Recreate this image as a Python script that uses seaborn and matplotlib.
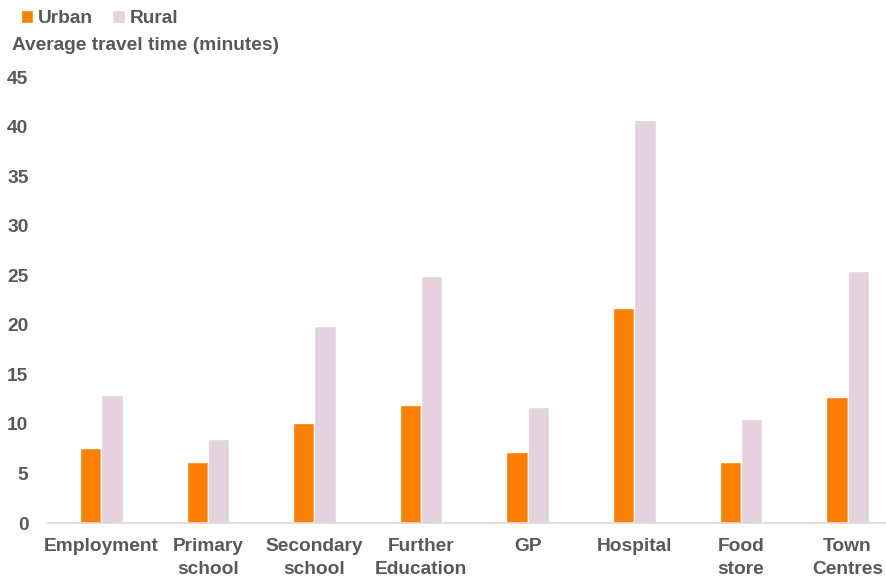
import matplotlib
matplotlib.use("Agg")
import matplotlib.pyplot as plt
import seaborn as sns
import pandas as pd

categories = ["Employment", "Primary\nschool", "Secondary\nschool", "Further\nEducation",
              "GP", "Hospital", "Food\nstore", "Town\nCentres"]
urban = [7.6, 6.2, 10.1, 11.9, 7.2, 21.7, 6.2, 12.7]
rural = [12.9, 8.5, 19.9, 24.9, 11.7, 40.7, 10.5, 25.4]
series = ["Urban", "Rural"]
yticks = [0, 5, 10, 15, 20, 25, 30, 35, 40, 45]

df = pd.DataFrame({
    "category": categories * 2,
    "value": urban + rural,
    "series": [series[0]] * len(categories) + [series[1]] * len(categories),
})

sns.set_theme(style="white")
plt.rcParams["font.family"] = ["Liberation Sans", "DejaVu Sans"]

grey = "#595959"
fs = 13.8
fig = plt.figure(figsize=(8.87, 5.79), dpi=100)
ax = fig.add_axes([0.054, 0.0967, 0.946, 0.770])

sns.barplot(data=df, x="category", y="value", hue="series", order=categories,
            hue_order=series, palette=["#FF7F00", "#E6D1DF"], width=0.4,
            saturation=1, ax=ax, legend=True)

ax.set_ylim(0, 45)
ax.set_xlim(-0.5, 7.37)
ax.set_yticks(yticks)
ax.set_yticklabels([str(t) for t in yticks], fontsize=fs, fontweight="bold", color=grey)
ax.set_xticks(range(len(categories)))
ax.set_xticklabels(categories, fontsize=fs, fontweight="bold", color=grey, linespacing=1.45)
ax.tick_params(axis="x", length=0, pad=11)
ax.tick_params(axis="y", length=0, pad=14)
ax.set_xlabel("")
ax.set_ylabel("")
for s in ["top", "right", "left"]:
    ax.spines[s].set_visible(False)
ax.spines["bottom"].set_color("#D9D9D9")
ax.spines["bottom"].set_linewidth(1.2)

handles, labels = ax.get_legend_handles_labels()
ax.legend_.remove()
fig.legend(handles, labels, loc="upper left", bbox_to_anchor=(0.004, 1.012), ncol=2,
           frameon=False, handlelength=0.65, handleheight=0.65, handletextpad=0.25,
           columnspacing=1.0, prop={"size": fs, "weight": "bold"}, labelcolor=grey)

fig.text(12 / 887, 1 - 46 / 579, "Average travel time (minutes)", fontsize=fs,
         fontweight="bold", color=grey, va="center", ha="left")

fig.savefig("out.png", dpi=100)
